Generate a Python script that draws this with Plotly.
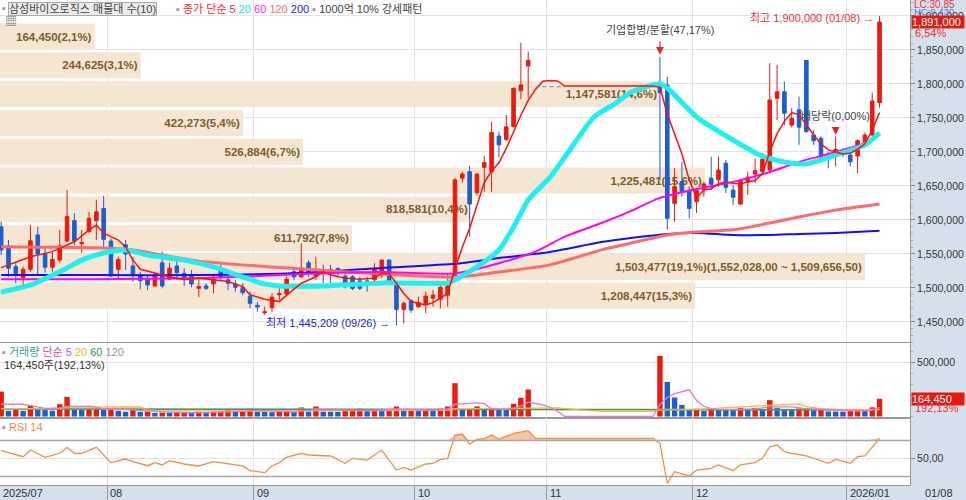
import numpy as np
import plotly.graph_objects as go

# 거래일 인덱스 기준: 0 = 2025/07/11 ... 120 = 2026/01/08
# 10/30 ~ 11/21 은 인적분할로 거래정지
month_labels = ['2025/07', '08', '09', '10', '11', '12', '2026/01']
month_first = [0, 15, 35, 57, 75, 95, 116]
last_date = '01/08'
low_date = '09/26'
HALT = [None] * 17

opens = [1590000, 1562000, 1531500, 1515500, 1527500, 1578000, 1550000, 1530500, 1541000, 1569000,
         1599000, 1565000, 1583000, 1599000, 1617000, 1569000, 1527500, 1563500, 1532500, 1519000,
         1513000, 1503000, 1537000, 1513000, 1532500, 1521500, 1519000, 1499500, 1503000, 1506000,
         1525000, 1512000, 1506000, 1500500, 1488000, 1474500, 1463500, 1471000, 1490000, 1491000,
         1524000, 1516500, 1537000, 1517500, 1527000, 1527500, 1528500, 1517500, 1516500, 1510500,
         1510500, 1512000, 1519000, 1541000, 1507000, 1468500, 1481500, 1472500, 1476500, 1485000,
         1483500, 1489500, 1510500, 1661500, 1671000, 1640000, 1677500, 1671000, 1723500, 1718500,
         1737000, 1790000, 1826500] + HALT + [
         1796000, 1798500, 1624500, 1656500, 1643000, 1627000, 1645000, 1661500, 1659000, 1683500,
         1644000, 1623500, 1656500, 1667500, 1671000, 1673500, 1779000, 1788500, 1739500, 1762000,
         1834500, 1725000, 1720000, 1697000, 1694000, 1700500, 1695500, 1694000, 1713000, 1725000,
         1772500]
highs = [1597500, 1570500, 1538000, 1531000, 1592500, 1590000, 1559000, 1553500, 1585500, 1644000,
         1610000, 1585500, 1612000, 1629500, 1635500, 1573000, 1546000, 1570500, 1546000, 1524000,
         1519000, 1522500, 1553500, 1537000, 1544500, 1529000, 1526500, 1512000, 1507000, 1519000,
         1534000, 1516500, 1512000, 1507000, 1494500, 1480000, 1472500, 1492000, 1499500, 1516500,
         1529000, 1565500, 1541000, 1546000, 1534000, 1534000, 1530500, 1521500, 1519000, 1516500,
         1516500, 1536500, 1542000, 1542000, 1509000, 1480000, 1483500, 1487000, 1494500, 1497000,
         1508000, 1521500, 1661500, 1671000, 1679500, 1669000, 1694000, 1744500, 1730000, 1754500,
         1795000, 1860500, 1847500] + HALT + [
         1840000, 1810500, 1676500, 1685500, 1649000, 1644000, 1656500, 1693000, 1693000, 1688000,
         1651500, 1659000, 1671000, 1690500, 1698000, 1830500, 1828000, 1803500, 1764500, 1781500,
         1834500, 1732500, 1723500, 1700500, 1722500, 1705500, 1697000, 1718500, 1728500, 1787000,
         1900000]
lows = [1548500, 1516500, 1507000, 1503000, 1524000, 1519000, 1522500, 1524000, 1537000, 1568000,
        1563000, 1551500, 1581000, 1570500, 1560500, 1516500, 1513000, 1526500, 1509000, 1498000,
        1497000, 1502000, 1499500, 1512000, 1512000, 1503000, 1501000, 1486500, 1497000, 1492000,
        1512000, 1497000, 1494500, 1489500, 1470000, 1465000, 1460500, 1465000, 1482500, 1489500,
        1512000, 1514500, 1516500, 1512000, 1507000, 1507000, 1516500, 1499500, 1497000, 1497000,
        1494500, 1507000, 1514500, 1504500, 1445209, 1447500, 1463500, 1471000, 1463000, 1472500,
        1470000, 1472500, 1509000, 1655000, 1575500, 1636000, 1641500, 1641500, 1692000, 1716000,
        1736500, 1777500, 1779000] + HALT + [
        1659000, 1585500, 1597500, 1634500, 1602500, 1610500, 1634500, 1644000, 1649000, 1639500,
        1622000, 1622000, 1637000, 1654000, 1668500, 1668500, 1747000, 1739500, 1736000, 1710500,
        1728500, 1710500, 1684500, 1676000, 1678500, 1693000, 1678500, 1668500, 1707000, 1723500,
        1765000]
closes = [1556000, 1529000, 1521500, 1527500, 1569500, 1550000, 1530500, 1542000, 1562000, 1605000,
          1569000, 1567000, 1602500, 1612000, 1571500, 1517500, 1542000, 1550000, 1519000, 1510500,
          1504500, 1519000, 1503000, 1529000, 1522500, 1513000, 1506000, 1502000, 1499500, 1513000,
          1515500, 1507000, 1501000, 1493000, 1477500, 1472000, 1465000, 1486500, 1491500, 1513000,
          1516500, 1529000, 1521500, 1525500, 1521500, 1522500, 1522500, 1502000, 1499500, 1499500,
          1508000, 1527500, 1541000, 1507000, 1468500, 1477500, 1467500, 1478500, 1488000, 1489500,
          1501000, 1503000, 1659000, 1667500, 1623500, 1667500, 1684500, 1728500, 1710500, 1737000,
          1793500, 1798500, 1834500] + HALT + [
          1787000, 1602500, 1649000, 1641500, 1617000, 1643000, 1653000, 1652500, 1673500, 1648000,
          1633500, 1658000, 1663000, 1672500, 1689500, 1776500, 1788500, 1757000, 1749500, 1736500,
          1730000, 1716500, 1693000, 1689500, 1704000, 1697000, 1685500, 1716500, 1725000, 1775000,
          1891000]
volumes = [232000, 53000, 62000, 53000, 105000, 62000, 60000, 54000, 114000, 183000,
           62000, 60000, 63000, 74000, 72000, 75000, 53000, 44000, 62000, 44000,
           46000, 34000, 35000, 34000, 35000, 36000, 35000, 44000, 36000, 44000,
           45000, 62000, 44000, 46000, 74000, 44000, 43000, 40000, 50000, 53000,
           40000, 84000, 45000, 93000, 45000, 44000, 43000, 52000, 55000, 74000,
           50000, 60000, 58000, 62000, 93000, 55000, 60000, 55000, 58000, 55000,
           74000, 93000, 310000, 62000, 70000, 93000, 65000, 70000, 65000, 62000,
           118000, 174000, 251000] + HALT + [
           564000, 322000, 177000, 108000, 68000, 72000, 52000, 72000, 68000, 66000,
           64000, 80000, 66000, 80000, 68000, 152000, 80000, 68000, 65000, 75000,
           77000, 58000, 60000, 47000, 46000, 45000, 58000, 60000, 52000, 85593,
           164450]

# 가격 이동평균
ma5_idx = [0, 4, 7, 10, 12, 13, 14, 16, 17, 18, 19, 21, 23, 25, 27, 29, 31, 33, 34, 36,
           38, 39, 41, 43, 44, 45, 47, 49, 51, 52, 53, 54, 55, 56, 58, 59, 60, 61, 62, 63,
           64, 65, 66, 67, 68, 69, 70, 71, 72, 73, 74, 75, 76, 77, 89, 90, 91, 92, 93, 94,
           95, 96, 97, 98, 99, 100, 101, 102, 103, 104, 105, 106, 107, 108, 109, 110, 111, 112, 113, 114,
           115, 116, 117, 118, 119, 120]
ma5_val = [1530000, 1546000, 1553500, 1568000, 1585000, 1592500, 1580500, 1570500, 1560500, 1541000,
           1527500, 1521500, 1516500, 1512000, 1514500, 1512000, 1509500, 1502000, 1490000, 1483500,
           1480000, 1489500, 1507000, 1516500, 1524000, 1519000, 1514500, 1513000, 1514500, 1521500,
           1521000, 1507000, 1492000, 1480000, 1475000, 1478500, 1485000, 1492000, 1528000, 1560000,
           1588000, 1620000, 1655000, 1672000, 1684000, 1705000, 1730000, 1754000, 1776000, 1792000,
           1804000, 1805000, 1804500, 1797000, 1797000, 1795000, 1756000, 1727000, 1697000, 1659000,
           1632000, 1644000, 1646000, 1653000, 1656000, 1654000, 1653000, 1656000, 1658000, 1668000,
           1700000, 1727000, 1745000, 1758000, 1755000, 1740000, 1725000, 1712000, 1703000, 1700000,
           1697000, 1698000, 1704000, 1712000, 1732000, 1758000]
ma20_idx = [0, 4, 9, 11, 14, 17, 20, 25, 29, 33, 36, 38, 44, 52, 61, 62, 65, 68, 70, 72,
            75, 77, 81, 84, 86, 90, 91, 95, 100, 104, 107, 110, 114, 118, 120]
ma20_val = [1494000, 1504500, 1529500, 1541000, 1551500, 1556000, 1548500, 1541000, 1531000, 1516000,
            1506000, 1503000, 1503000, 1507500, 1507500, 1512000, 1531000, 1556000, 1589500, 1629500,
            1663000, 1692500, 1751500, 1772000, 1788000, 1800000, 1794000, 1751500, 1717500, 1694000,
            1685500, 1682500, 1695500, 1710500, 1728000]
ma60_idx = [0, 13, 27, 35, 41, 52, 62, 68, 73, 77, 82, 86, 90, 95, 100, 105, 109, 114, 118, 120]
ma60_val = [1513000, 1513000, 1514500, 1517500, 1520500, 1523500, 1521500, 1536500, 1553500, 1575500,
            1595500, 1613000, 1632500, 1645500, 1656000, 1670500, 1685500, 1700000, 1713000, 1725000]
ma120_idx = [0, 13, 18, 27, 41, 52, 62, 68, 75, 82, 86, 91, 95, 100, 105, 109, 114, 120]
ma120_val = [1560500, 1559000, 1556000, 1539500, 1528000, 1520500, 1516000, 1523500, 1534000, 1556000,
             1566000, 1578000, 1582500, 1585500, 1595500, 1604500, 1614500, 1623500]
ma200_idx = [0, 13, 27, 41, 52, 62, 68, 75, 82, 86, 91, 95, 100, 105, 109, 114, 120]
ma200_val = [1519000, 1519000, 1519000, 1522000, 1529500, 1535500, 1544000, 1553000, 1567500, 1573500,
             1579500, 1581000, 1578000, 1578000, 1579500, 1581000, 1584000]
relist_base = 1796000
relist_span = [73, 77]

# 매물대 (아래 -> 위)
band_low, band_high = 1467285, 1891000
profile_vol = [1208447, 1503477, 611792, 818581, 1225481, 526884, 422273, 1147581, 244625, 164450]
profile_pct = [15.3, 19.1, 7.8, 10.4, 15.6, 6.7, 5.4, 14.6, 3.1, 2.1]

# 거래량 이동평균
vma5_idx = [0, 3, 4, 6, 8, 9, 10, 12, 13, 14, 16, 18, 20, 22, 24, 26, 28, 30, 31, 33,
            34, 36, 38, 40, 41, 43, 46, 49, 51, 54, 56, 59, 61, 62, 63, 64, 65, 66, 67, 69,
            70, 71, 72, 73, 74, 75, 76, 77, 89, 90, 91, 92, 93, 94, 95, 96, 97, 98, 100, 103,
            105, 107, 108, 110, 112, 115, 117, 118, 119, 120]
vma5_val = [114000, 114000, 101000, 76000, 79000, 95000, 95000, 96000, 88000, 66000,
            68000, 63000, 52000, 44000, 37000, 35000, 37000, 41000, 46000, 48000,
            54000, 54000, 49000, 44000, 53000, 62000, 62000, 54000, 56000, 67000,
            66000, 57000, 67000, 114000, 118000, 122000, 126000, 120000, 72000, 66000,
            76000, 98000, 134000, 121000, 109000, 85000, 50000, 0, 0, 113000,
            177000, 213000, 234000, 248000, 149000, 95000, 74000, 66000, 64000, 71000,
            89000, 90000, 89000, 73000, 67000, 51000, 51000, 52000, 60000, 84000]
vma20_idx = [0, 8, 9, 19, 20, 21, 36, 50, 61, 62, 72, 76, 79, 82, 89, 90, 95, 100, 105, 109,
             110, 112, 115, 120]
vma20_val = [74000, 74000, 88000, 90000, 60000, 55000, 52000, 52000, 58000, 70000,
             82000, 80000, 62000, 49000, 48000, 60000, 66000, 82000, 104000, 118000,
             92000, 72000, 64000, 66000]
vma60_idx = [0, 30, 60, 72, 89, 95, 110, 120]
vma60_val = [68000, 68000, 64000, 68000, 62000, 66000, 66000, 62000]
vma120_idx = [0, 60, 120]
vma120_val = [72000, 66000, 64000]

# RSI 14
rsi_idx = [0, 2, 3, 4, 6, 8, 9, 10, 11, 13, 14, 15, 17, 18, 20, 21, 22, 23, 25, 27,
           29, 33, 34, 36, 37, 38, 39, 41, 42, 45, 47, 48, 50, 52, 54, 55, 56, 58, 59, 60,
           61, 62, 63, 64, 65, 66, 67, 68, 70, 72, 73, 89, 90, 91, 92, 94, 95, 97, 98, 100,
           101, 103, 104, 105, 106, 107, 108, 110, 113, 114, 116, 117, 118, 120]
rsi_val = [58.7, 53.9, 52.0, 59.4, 51.3, 55.8, 62.4, 55.8, 55.8, 62.4, 53.9, 45.4, 49.4, 46.5, 42.0,
           45.4, 42.8, 47.6, 43.9, 41.7, 46.5, 41.7, 36.5, 34.3, 41.7, 45.4, 51.3, 55.8, 53.9, 52.8,
           44.6, 50.2, 48.3, 59.4, 37.2, 40.2, 37.2, 43.9, 44.6, 49.1, 50.2, 76.1, 77.2, 66.1, 71.3,
           72.0, 76.1, 71.3, 78.0, 80.9, 72.4, 72.4, 66.9, 22.4, 35.3, 30.6, 37.2, 39.1, 42.8, 36.5,
           42.8, 45.4, 50.2, 63.1, 65.0, 57.6, 55.8, 52.8, 44.6, 49.1, 44.6, 52.0, 52.8, 72.4]
rsi_levels = [30, 70]

corp_event = ('기업합병/분할(47,17%)', 90)
div_event = ('배당락(0,00%)', 114)

# ---- 스타일 ----
RED = '#ea1a0d'
BLUE = '#1c5fcc'
GRID = '#e3e3e3'
AXIS = '#9a9a9a'
FONT = 'Liberation Sans, Noto Sans CJK KR, sans-serif'
PW, PH = 910, 485   # 플롯 영역 (px)


def px(v):
    return v / PW


def py(v):
    return (PH - v) / PH


x = np.arange(len(closes))
XR = [-0.16, 124.16]
grid_x = [m - 0.5 for m in month_first[1:]]

fig = go.Figure()

# 매물대
edges = np.linspace(band_low, band_high, len(profile_vol) + 1)
mids = (edges[:-1] + edges[1:]) / 2
step = edges[1] - edges[0]
imax = int(np.argmax(profile_vol))
labels = []
for k, (v, p) in enumerate(zip(profile_vol, profile_pct)):
    t = f'{v:,}' + f'({p:.1f}%)'.replace('.', ',')
    if k == imax:
        t += f'({edges[k + 1]:,.2f} ~ {edges[k]:,.2f})'.replace('.', ',')
    labels.append(t)

fig.add_trace(go.Bar(
    x=profile_vol, y=mids, orientation='h', width=step * 0.9,
    xaxis='x', yaxis='y',
    marker=dict(color='#f5e6d3', line=dict(width=0)),
    text=labels, textposition='inside', insidetextanchor='end', textangle=0,
    constraintext='none',
    textfont=dict(family=FONT, size=11.5, color='#7c5d2b', weight='bold'),
    hoverinfo='skip'
))

# 이동평균 (긴 것부터)
for idx, val, col, w in [(ma200_idx, ma200_val, '#1010ff', 2),
                         (ma120_idx, ma120_val, '#ff6a6a', 3),
                         (ma60_idx, ma60_val, '#ff00ff', 2),
                         (ma20_idx, ma20_val, '#1ef0f0', 5)]:
    fig.add_trace(go.Scatter(x=idx, y=val, mode='lines', xaxis='x2', yaxis='y',
                             line=dict(color=col, width=w, shape='spline', smoothing=0.6),
                             hoverinfo='skip'))

fig.add_trace(go.Candlestick(
    x=x, open=opens, high=highs, low=lows, close=closes, xaxis='x2', yaxis='y',
    increasing=dict(line=dict(color=RED, width=1), fillcolor=RED),
    decreasing=dict(line=dict(color=BLUE, width=1), fillcolor=BLUE),
    whiskerwidth=0, hoverinfo='skip'
))

fig.add_trace(go.Scatter(x=ma5_idx, y=ma5_val, mode='lines', xaxis='x2', yaxis='y',
                         line=dict(color='#ff1010', width=1.5), hoverinfo='skip'))
fig.add_trace(go.Scatter(x=relist_span, y=[relist_base] * 2, mode='lines', xaxis='x2', yaxis='y',
                         line=dict(color='#6a8ec0', width=1, dash='4px,3px'), hoverinfo='skip'))

# 거래량 (전일 대비 증가 빨강 / 감소 파랑)
vol_colors = []
prev = None
for v in volumes:
    if v is None:
        vol_colors.append(RED)
        continue
    vol_colors.append(RED if prev is None or v > prev else BLUE)
    prev = v
fig.add_trace(go.Bar(x=x, y=volumes, xaxis='x3', yaxis='y2', width=0.74,
                     marker=dict(color=vol_colors, line=dict(width=0)), hoverinfo='skip'))
for idx, val, col in [(vma120_idx, vma120_val, '#b0b0b0'),
                      (vma60_idx, vma60_val, '#36a046'),
                      (vma20_idx, vma20_val, '#f5b935'),
                      (vma5_idx, vma5_val, '#f072d8')]:
    fig.add_trace(go.Scatter(x=idx, y=val, mode='lines', xaxis='x3', yaxis='y2',
                             line=dict(color=col, width=1.3), hoverinfo='skip'))

# RSI
fig.add_trace(go.Scatter(x=rsi_idx, y=[rsi_levels[1]] * len(rsi_idx), mode='lines',
                         xaxis='x4', yaxis='y3', line=dict(width=0), hoverinfo='skip'))
fig.add_trace(go.Scatter(x=rsi_idx, y=[max(v, rsi_levels[1]) for v in rsi_val], mode='lines',
                         xaxis='x4', yaxis='y3', line=dict(width=0), fill='tonexty',
                         fillcolor='rgba(240,150,90,0.55)', hoverinfo='skip'))
fig.add_trace(go.Scatter(x=rsi_idx, y=rsi_val, mode='lines', xaxis='x4', yaxis='y3',
                         line=dict(color='#fb8a3c', width=1.3), hoverinfo='skip'))

# ---- 주석 ----
ann = []


def text(xv, yv, t, color='#333', size=11, xanchor='left', **kw):
    d = dict(x=xv, y=yv, xref='paper', yref='paper', text=t, showarrow=False,
             xanchor=xanchor, yanchor='middle', font=dict(family=FONT, size=size, color=color))
    d.update(kw)
    ann.append(d)


sq = '<span style="color:#9a9a9a">▪</span>'
text(px(0), py(8), sq)
text(px(8), py(8.5), '삼성바이오로직스 매물대 수(10)', color='#444',
     bgcolor='#ebebeb', bordercolor='#a8a8a8', borderwidth=1, borderpad=0)
text(px(174), py(8.5),
     sq + ' <span style="color:#ff2a2a">종가 단순 5</span> <span style="color:#18e0e0">20</span> '
     '<span style="color:#ff22ff">60</span> <span style="color:#ff6a6a">120</span> '
     '<span style="color:#2020ff">200</span> ' + sq + ' <span style="color:#444">1000억 10% 강세패턴</span>')
text(px(3), py(22), '▦', color='#777', size=12)

text(px(0), py(352), sq + ' <span style="color:#3c9ea0">거래량</span> <span style="color:#e04cc8">단순 5</span> '
     '<span style="color:#f0b030">20</span> <span style="color:#2e9a44">60</span> '
     '<span style="color:#999">120</span>')
vol_ratio = volumes[-1] / volumes[-2] * 100
text(px(2), py(364.5), f'{volumes[-1]:,}주' + f'({vol_ratio:.2f}%)'.replace('.', ','), color='#333')
text(px(0), py(427), sq + ' <span style="color:#f58a3a">RSI 14</span>')

# 오른쪽 축 영역 (HC 는 현재가 박스 뒤에 살짝 가려짐)
chg = (closes[-1] / closes[-2] - 1) * 100
text(px(912), py(4.5), 'LC:30,85', color='#e83030', size=10)
text(px(912), py(11.5), 'HC:9,430', color='#4a78dc', size=9.5)
ann.append(dict(x=px(911), y=closes[-1], xref='paper', yref='y', text=f'{closes[-1]:,}',
                showarrow=False, xanchor='left', yanchor='middle', width=52, align='left',
                bgcolor='#e8190c', borderpad=0, font=dict(family=FONT, size=11, color='white')))
text(px(913), py(33.5), f'{chg:.2f}%'.replace('.', ','), color='#e83030')
ann.append(dict(x=px(911), y=volumes[-1], xref='paper', yref='y2', text=f'{volumes[-1]:,}',
                showarrow=False, xanchor='left', yanchor='middle', width=52, align='left',
                bgcolor='#e8190c', borderpad=0, font=dict(family=FONT, size=11, color='white')))
text(px(913), py(407.5), f'{vol_ratio:.2f}%'.replace('.', ','), color='#e83030')
text(px(939), py(493), last_date, color='#333', xanchor='center')

# 날짜
for k, (lab, first) in enumerate(zip(month_labels, month_first)):
    xv = XR[0] if k == 0 else first - 0.5
    ann.append(dict(x=xv, y=py(493), xref='x4', yref='paper', text=lab, showarrow=False,
                    xanchor='left', yanchor='middle', xshift=1,
                    font=dict(family=FONT, size=11, color='#333')))

# 이벤트
valid_highs = [h for h in highs if h is not None]
valid_lows = [l for l in lows if l is not None]
hi_i = highs.index(max(valid_highs))
lo_i = lows.index(min(valid_lows))
for label, i, shift in [(corp_event[0], corp_event[1], 19), (div_event[0], div_event[1], 13)]:
    ann.append(dict(x=i, y=highs[i], xref='x2', yref='y', text=label, showarrow=False,
                    xanchor='center', yanchor='bottom', yshift=shift,
                    font=dict(family=FONT, size=11, color='#444')))
    ann.append(dict(x=i, y=highs[i], xref='x2', yref='y', text='', showarrow=True,
                    ax=0, ay=-shift + 2, arrowhead=2, arrowsize=1.3, arrowwidth=1.2,
                    arrowcolor='#f02020', standoff=2))
ann.append(dict(x=hi_i, y=highs[hi_i], xref='x2', yref='y',
                text=f'최고 {highs[hi_i]:,} ({last_date}) →', showarrow=False,
                xanchor='right', yanchor='middle', xshift=-4, yshift=-2,
                font=dict(family=FONT, size=11, color='#f03030')))
ann.append(dict(x=lo_i, y=lows[lo_i], xref='x2', yref='y',
                text=f'최저 {lows[lo_i]:,} ({low_date}) →', showarrow=False,
                xanchor='right', yanchor='middle', xshift=-4, yshift=2,
                font=dict(family=FONT, size=11, color='#2020e0')))

shapes = [dict(type='line', xref='x4 domain', yref='y3', x0=0, x1=1, y0=lv, y1=lv,
               line=dict(color='#a8a8a8', width=1.3)) for lv in rsi_levels]

tickfont = dict(family=FONT, size=10.5, color='#333')
common_x = dict(range=XR, tickvals=grid_x, showticklabels=False, showgrid=True,
                gridcolor=GRID, zeroline=False, rangeslider=dict(visible=False))
right_y = dict(side='right', showgrid=True, gridcolor=GRID, zeroline=False, ticks='outside',
               ticklen=4, tickcolor='#888', showline=True, linecolor=AXIS, tickfont=tickfont)

fig.update_layout(
    width=966, height=500, margin=dict(l=0, r=56, t=0, b=15),
    paper_bgcolor='#d6e0ed', plot_bgcolor='white', showlegend=False,
    xaxis=dict(domain=[0, 1], anchor='y', range=[0, max(profile_vol) * PW / 865],
               visible=False, showgrid=False, rangeslider=dict(visible=False)),
    xaxis2=dict(overlaying='x', anchor='y', ticks='', **common_x),
    xaxis3=dict(domain=[0, 1], anchor='y2', ticks='', showline=True, mirror=True,
                linecolor=AXIS, **common_x),
    xaxis4=dict(domain=[0, 1], anchor='y3', ticks='outside', ticklen=15, tickcolor='#999',
                showline=True, mirror=True, linecolor=AXIS, **common_x),
    yaxis=dict(domain=[py(343), 1], anchor='x', range=[1419100, 1923500],
               tickvals=list(range(1450000, 1900001, 50000)), tickformat=',',
               minor=dict(dtick=10000, ticklen=2, tickcolor='#aaa', showgrid=False), **right_y),
    yaxis2=dict(domain=[py(418), py(343)], anchor='x3', range=[-13950, 683550],
                tickvals=[500000], tickformat=',',
                minor=dict(dtick=100000, ticklen=2, tickcolor='#aaa', showgrid=False), **right_y),
    yaxis3=dict(domain=[0, py(418)], anchor='x4', range=[20.56, 95],
                tickvals=[50], ticktext=['50,00'], **right_y),
    annotations=ann, shapes=shapes,
)

# 페이지 여백 제거 (966x500 창에 그대로 맞추기), 모드바 숨김
fig.write_html("out.html", config={'displayModeBar': False},
               post_script="document.body.style.margin='0';")
